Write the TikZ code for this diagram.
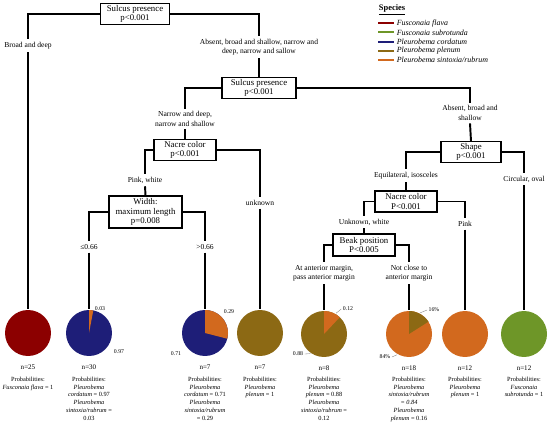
\documentclass[tikz,border=0pt]{standalone}
\usepackage{fontspec}
\setmainfont{Liberation Serif}

\definecolor{rojo}{RGB}{140,0,0}
\definecolor{verde}{RGB}{110,150,40}
\definecolor{azul}{RGB}{30,30,120}
\definecolor{oliva}{RGB}{140,105,20}
\definecolor{naranja}{RGB}{210,105,30}

\begin{document}
\begin{tikzpicture}[x=0.02cm,y=-0.02cm,line width=1.1pt,
  caja/.style={draw,line width=0.6pt,fill=white,align=center,inner sep=0.8pt,minimum height=0.4cm,font=\fontsize{5}{5.5}\selectfont},
  rama/.style={align=center,inner sep=1.2pt,font=\fontsize{4.3}{5.3}\selectfont},
  torta/.style={circle,minimum size=0.92cm,inner sep=0pt},
  cuenta/.style={inner sep=0pt,font=\fontsize{4}{4.4}\selectfont},
  prob/.style={align=center,anchor=north,inner sep=0pt,font=\fontsize{3.6}{4.4}\selectfont},
  frac/.style={inner sep=0.4pt,font=\fontsize{3.3}{3.6}\selectfont},
  guia/.style={line width=0.2pt,gray}]
  \useasboundingbox (0,0) rectangle (550,425);

  % nodos de decision
  \node[caja,minimum width=1.38cm] (s1) at (135,14) {Sulcus presence\\p<0.001};
  \node[caja,minimum width=1.48cm] (s2) at (259,88) {Sulcus presence\\p<0.001};
  \node[caja,minimum width=1.24cm,minimum height=0.42cm] (n1) at (185,150) {Nacre color\\p<0.001};
  \node[caja,minimum width=1.46cm,minimum height=0.64cm] (w1) at (145.5,212) {Width:\\maximum length\\p=0.008};
  \node[caja,minimum width=1.2cm] (sh) at (471,152) {Shape\\p<0.001};
  \node[caja,minimum width=1.24cm,minimum height=0.42cm] (n2) at (406,201.5) {Nacre color\\P<0.001};
  \node[caja,minimum width=1.24cm,minimum height=0.44cm] (bk) at (364,245) {Beak position\\P<0.005};

  % etiquetas de las ramas
  \node[rama] (r1) at (28,46) {Broad and deep};
  \node[rama] (r2) at (259,47) {Absent, broad and shallow, narrow and\\deep, narrow and sallow};
  \node[rama] (r3) at (185,119) {Narrow and deep,\\narrow and shallow};
  \node[rama] (r4) at (470,113) {Absent, broad and\\shallow};
  \node[rama] (r5) at (145,180) {Pink, white};
  \node[rama] (r6) at (260,203) {unknown};
  \node[rama] (r7) at (89,247) {≤0.66};
  \node[rama] (r8) at (205,247) {>0.66};
  \node[rama] (r9) at (406,176) {Equilateral, isosceles};
  \node[rama] (r10) at (524,179) {Circular, oval};
  \node[rama] (r11) at (364,222) {Unknown, white};
  \node[rama] (r12) at (465,224) {Pink};
  \node[rama] (r13) at (324,273) {At anterior margin,\\pass anterior margin};
  \node[rama] (r14) at (409,273) {Not close to\\anterior margin};

  % tortas
  \node[torta,fill=rojo] (t1) at (28,333) {};
  \node[torta,fill=azul] (t2) at (89,333) {};
  \node[torta,fill=azul] (t3) at (205,333) {};
  \node[torta,fill=oliva] (t4) at (260,333) {};
  \node[torta,fill=oliva] (t5) at (324,334) {};
  \node[torta,fill=naranja] (t6) at (409,334) {};
  \node[torta,fill=naranja] (t7) at (465,334) {};
  \node[torta,fill=verde] (t8) at (524,334) {};
  \fill[naranja] (t2.center) -- ++(90:0.46cm) arc[start angle=90,end angle=79.2,radius=0.46cm] -- cycle;
  \fill[naranja] (t3.center) -- ++(90:0.46cm) arc[start angle=90,end angle=-14.4,radius=0.46cm] -- cycle;
  \fill[naranja] (t5.center) -- ++(90:0.46cm) arc[start angle=90,end angle=46.8,radius=0.46cm] -- cycle;
  \fill[oliva] (t6.center) -- ++(90:0.46cm) arc[start angle=90,end angle=32.4,radius=0.46cm] -- cycle;

  % conectores
  \draw (s1.west) -| (r1.north);  \draw (r1.south) -- (t1.north);
  \draw (s1.east) -| (r2.north);  \draw (r2.south) -- (s2.north);
  \draw (s2.west) -| (r3.north);  \draw (r3.south) -- (n1.north);
  \draw (s2.east) -| (r4.north);  \draw (r4.south) -- (sh.north);
  \draw (n1.west) -| (r5.north);  \draw (r5.south) -- (w1.north);
  \draw (n1.east) -| (r6.north);  \draw (r6.south) -- (t4.north);
  \draw (w1.west) -| (r7.north);  \draw (r7.south) -- (t2.north);
  \draw (w1.east) -| (r8.north);  \draw (r8.south) -- (t3.north);
  \draw (sh.west) -| (r9.north);  \draw (r9.south) -- (n2.north);
  \draw (sh.east) -| (r10.north); \draw (r10.south) -- (t8.north);
  \draw (n2.west) -| (r11.north); \draw (r11.south) -- (bk.north);
  \draw (n2.east) -| (r12.north); \draw (r12.south) -- (t7.north);
  \draw (bk.west) -| (r13.north); \draw (r13.south) -- (t5.north);
  \draw (bk.east) -| (r14.north); \draw (r14.south) -- (t6.north);

  % fracciones de las tortas
  \node[frac] (f1) at (100,309) {0.03};
  \node[frac] (f2) at (119,352) {0.97};
  \node[frac] (f3) at (229,312) {0.29};
  \node[frac] (f4) at (176,354) {0.71};
  \node[frac] (f5) at (348,309) {0.12};
  \node[frac] (f6) at (298,354) {0.88};
  \node[frac] (f7) at (434,310) {16\%};
  \node[frac] (f8) at (385,357) {84\%};
  \draw[guia] (t5.60) -- (f5.west);
  \draw[guia] (t5.235) -- (f6.east);
  \draw[guia] (t6.62) -- (f7.west);
  \draw[guia] (t6.240) -- (f8.east);

  % tamanos de muestra y probabilidades
  \foreach \t/\n in {t1/25,t2/30,t3/7,t4/7,t5/8,t6/18,t7/12,t8/12}
    \node[cuenta] (n\t) at ([yshift=-0.68cm]\t.center) {n=\n};
  \node[prob] (p1) at (28,376) {Probabilities:\\\textit{Fusconaia flava} = 1};
  \node[prob] (p2) at (89,376) {Probabilities:\\\textit{Pleurobema}\\\textit{cordatum} = 0.97\\\textit{Pleurobema}\\\textit{sintoxia/rubrum} =\\0.03};
  \node[prob] (p3) at (205,376) {Probabilities:\\\textit{Pleurobema}\\\textit{cordatum} = 0.71\\\textit{Pleurobema}\\\textit{sintoxia/rubrum}\\= 0.29};
  \node[prob] (p4) at (260,376) {Probabilities:\\\textit{Pleurobema}\\\textit{plenum} = 1};
  \node[prob] (p5) at (324,376) {Probabilities:\\\textit{Pleurobema}\\\textit{plenum} = 0.88\\\textit{Pleurobema}\\\textit{sintoxia/rubrum} =\\0.12};
  \node[prob] (p6) at (409,376) {Probabilities:\\\textit{Pleurobema}\\\textit{sintoxia/rubrum}\\\textit{= 0.84}\\\textit{Pleurobema}\\\textit{plenum} = 0.16};
  \node[prob] (p7) at (465,376) {Probabilities:\\\textit{Pleurobema}\\\textit{plenum} = 1};
  \node[prob] (p8) at (524,376) {Probabilities:\\\textit{Fusconaia}\\\textit{subrotunda} = 1};

  % leyenda
  \node[inner sep=0pt,anchor=west,font=\fontsize{4.8}{5}\selectfont\bfseries] (ley) at (378,10) {\underline{Species}};
  \foreach \c/\s [count=\i] in {rojo/{Fusconaia flava},verde/{Fusconaia subrotunda},azul/{Pleurobema cordatum},oliva/{Pleurobema plenum},naranja/{Pleurobema sintoxia/rubrum}}{
    \coordinate (l\i) at (378,{13.8+9.3*\i});
    \draw[\c,line width=1.2pt] (l\i) -- ++(16,0) node[black,right,inner sep=1pt,font=\fontsize{4.5}{5}\selectfont\itshape] (e\i) {\s};
  }
\end{tikzpicture}
\end{document}
